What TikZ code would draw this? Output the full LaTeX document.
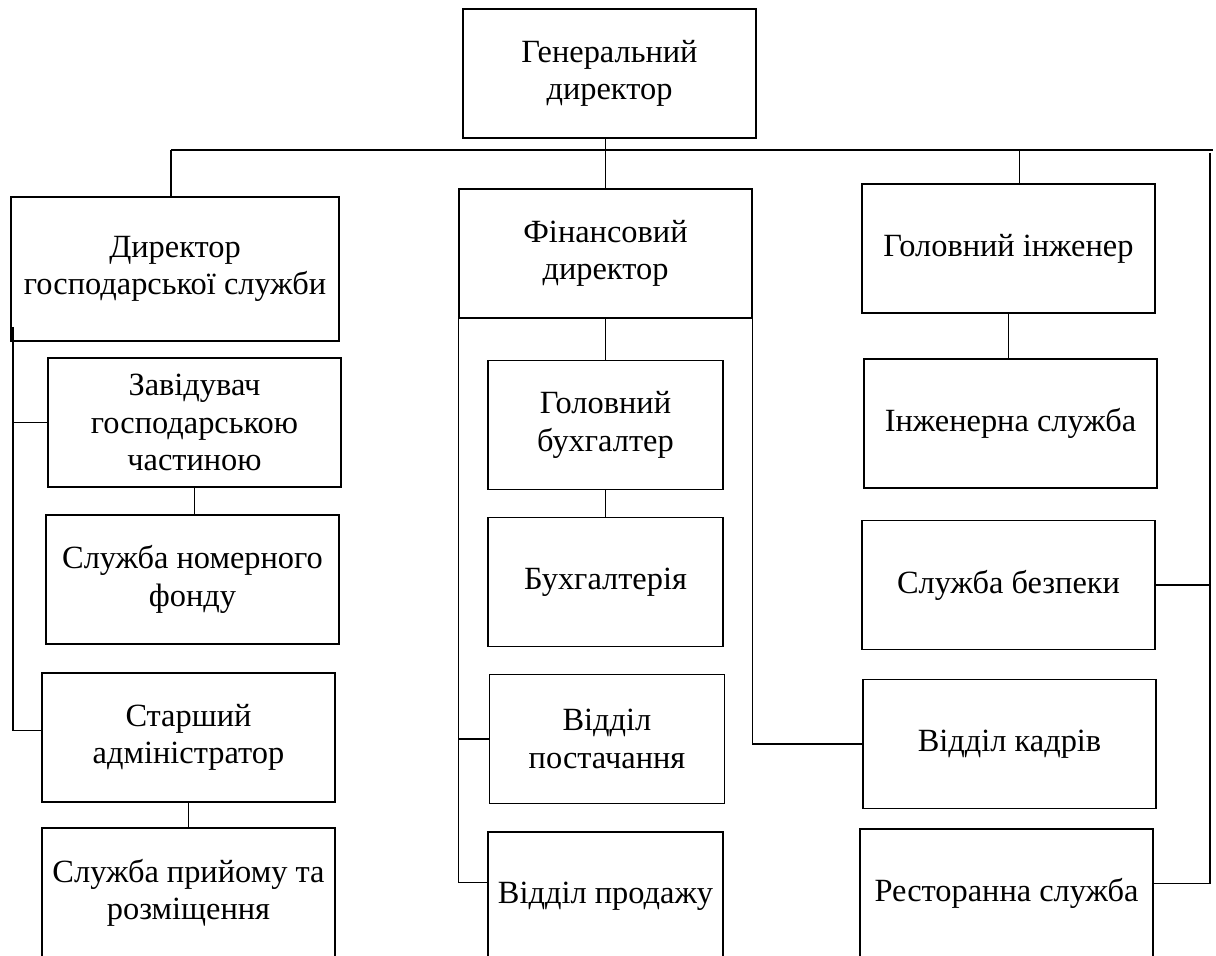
\documentclass[tikz,border=0pt]{standalone}
\usepackage{fontspec}
\setmainfont{Liberation Serif}
\begin{document}
\begin{tikzpicture}[x=0.5pt,y=-0.5pt,font=\fontsize{16.2}{18.6}\selectfont,line width=0.7pt,every node/.style={draw,align=center,minimum width=146.5pt,minimum height=64.5pt,inner sep=0pt},sub/.style={minimum width=117.5pt}]
\useasboundingbox (0,0) rectangle (1216,956);
\clip (0,0) rectangle (1216,956);
\node(gen) at (609.5,73.5){Генеральний\\директор};
\node[minimum width=164pt,minimum height=72pt](dgs) at (175,269){Директор\\господарської служби};
\node(zav) at (194.5,422.5){Завідувач\\господарською\\частиною};
\node(snf) at (192.5,579.5){Служба номерного\\фонду};
\node(sta) at (188.5,737.5){Старший\\адміністратор};
\node(spr) at (188.5,892.5){Служба прийому та\\розміщення};
\node(fin) at (605.5,253.5){Фінансовий\\директор};
\node[sub](gb) at (605.5,425){Головний\\бухгалтер};
\node[sub](bux) at (605.5,582){Бухгалтерія};
\node[sub](vpost) at (607,739){Відділ\\постачання};
\node[sub](vprod) at (605.5,896.5){Відділ продажу};
\node(gi) at (1008.5,248.5){Головний інженер};
\node(isl) at (1010.5,423.5){Інженерна служба};
\node(sb) at (1008.5,585){Служба безпеки};
\node(vk) at (1009.5,744){Відділ кадрів};
\node(rs) at (1006.5,893.5){Ресторанна служба};
\coordinate(b0) at (171,150);\coordinate(b1) at (1213,150);\coordinate(r0) at (1210,153);\coordinate(l0) at (13,327);
\draw(b0)--(b1);\draw(fin.north)--(fin.north|-gen.south);\draw(b0)--(b0|-dgs.north);\draw([xshift=5.5pt]gi.north)--([xshift=5.5pt]gi.north|-b0);
\draw(r0)|-([yshift=5pt]rs.east);\draw(sb.east)--(sb.east-|r0);\draw(gi.south)--(gi.south|-isl.north);
\draw(l0)|-([yshift=3.5pt]sta.west);\draw(zav.west)--(zav.west-|l0);\draw(zav.south)--(zav.south|-snf.north);\draw(sta.south)--(sta.south|-spr.north);
\draw(fin.south west)|-([yshift=7pt]vprod.west);\draw(vpost.west)--(vpost.west-|fin.south west);\draw(fin.south east)|-(vk.west);
\draw(fin.south)--(fin.south|-gb.north);\draw(gb.south)--(gb.south|-bux.north);
\end{tikzpicture}
\end{document}
